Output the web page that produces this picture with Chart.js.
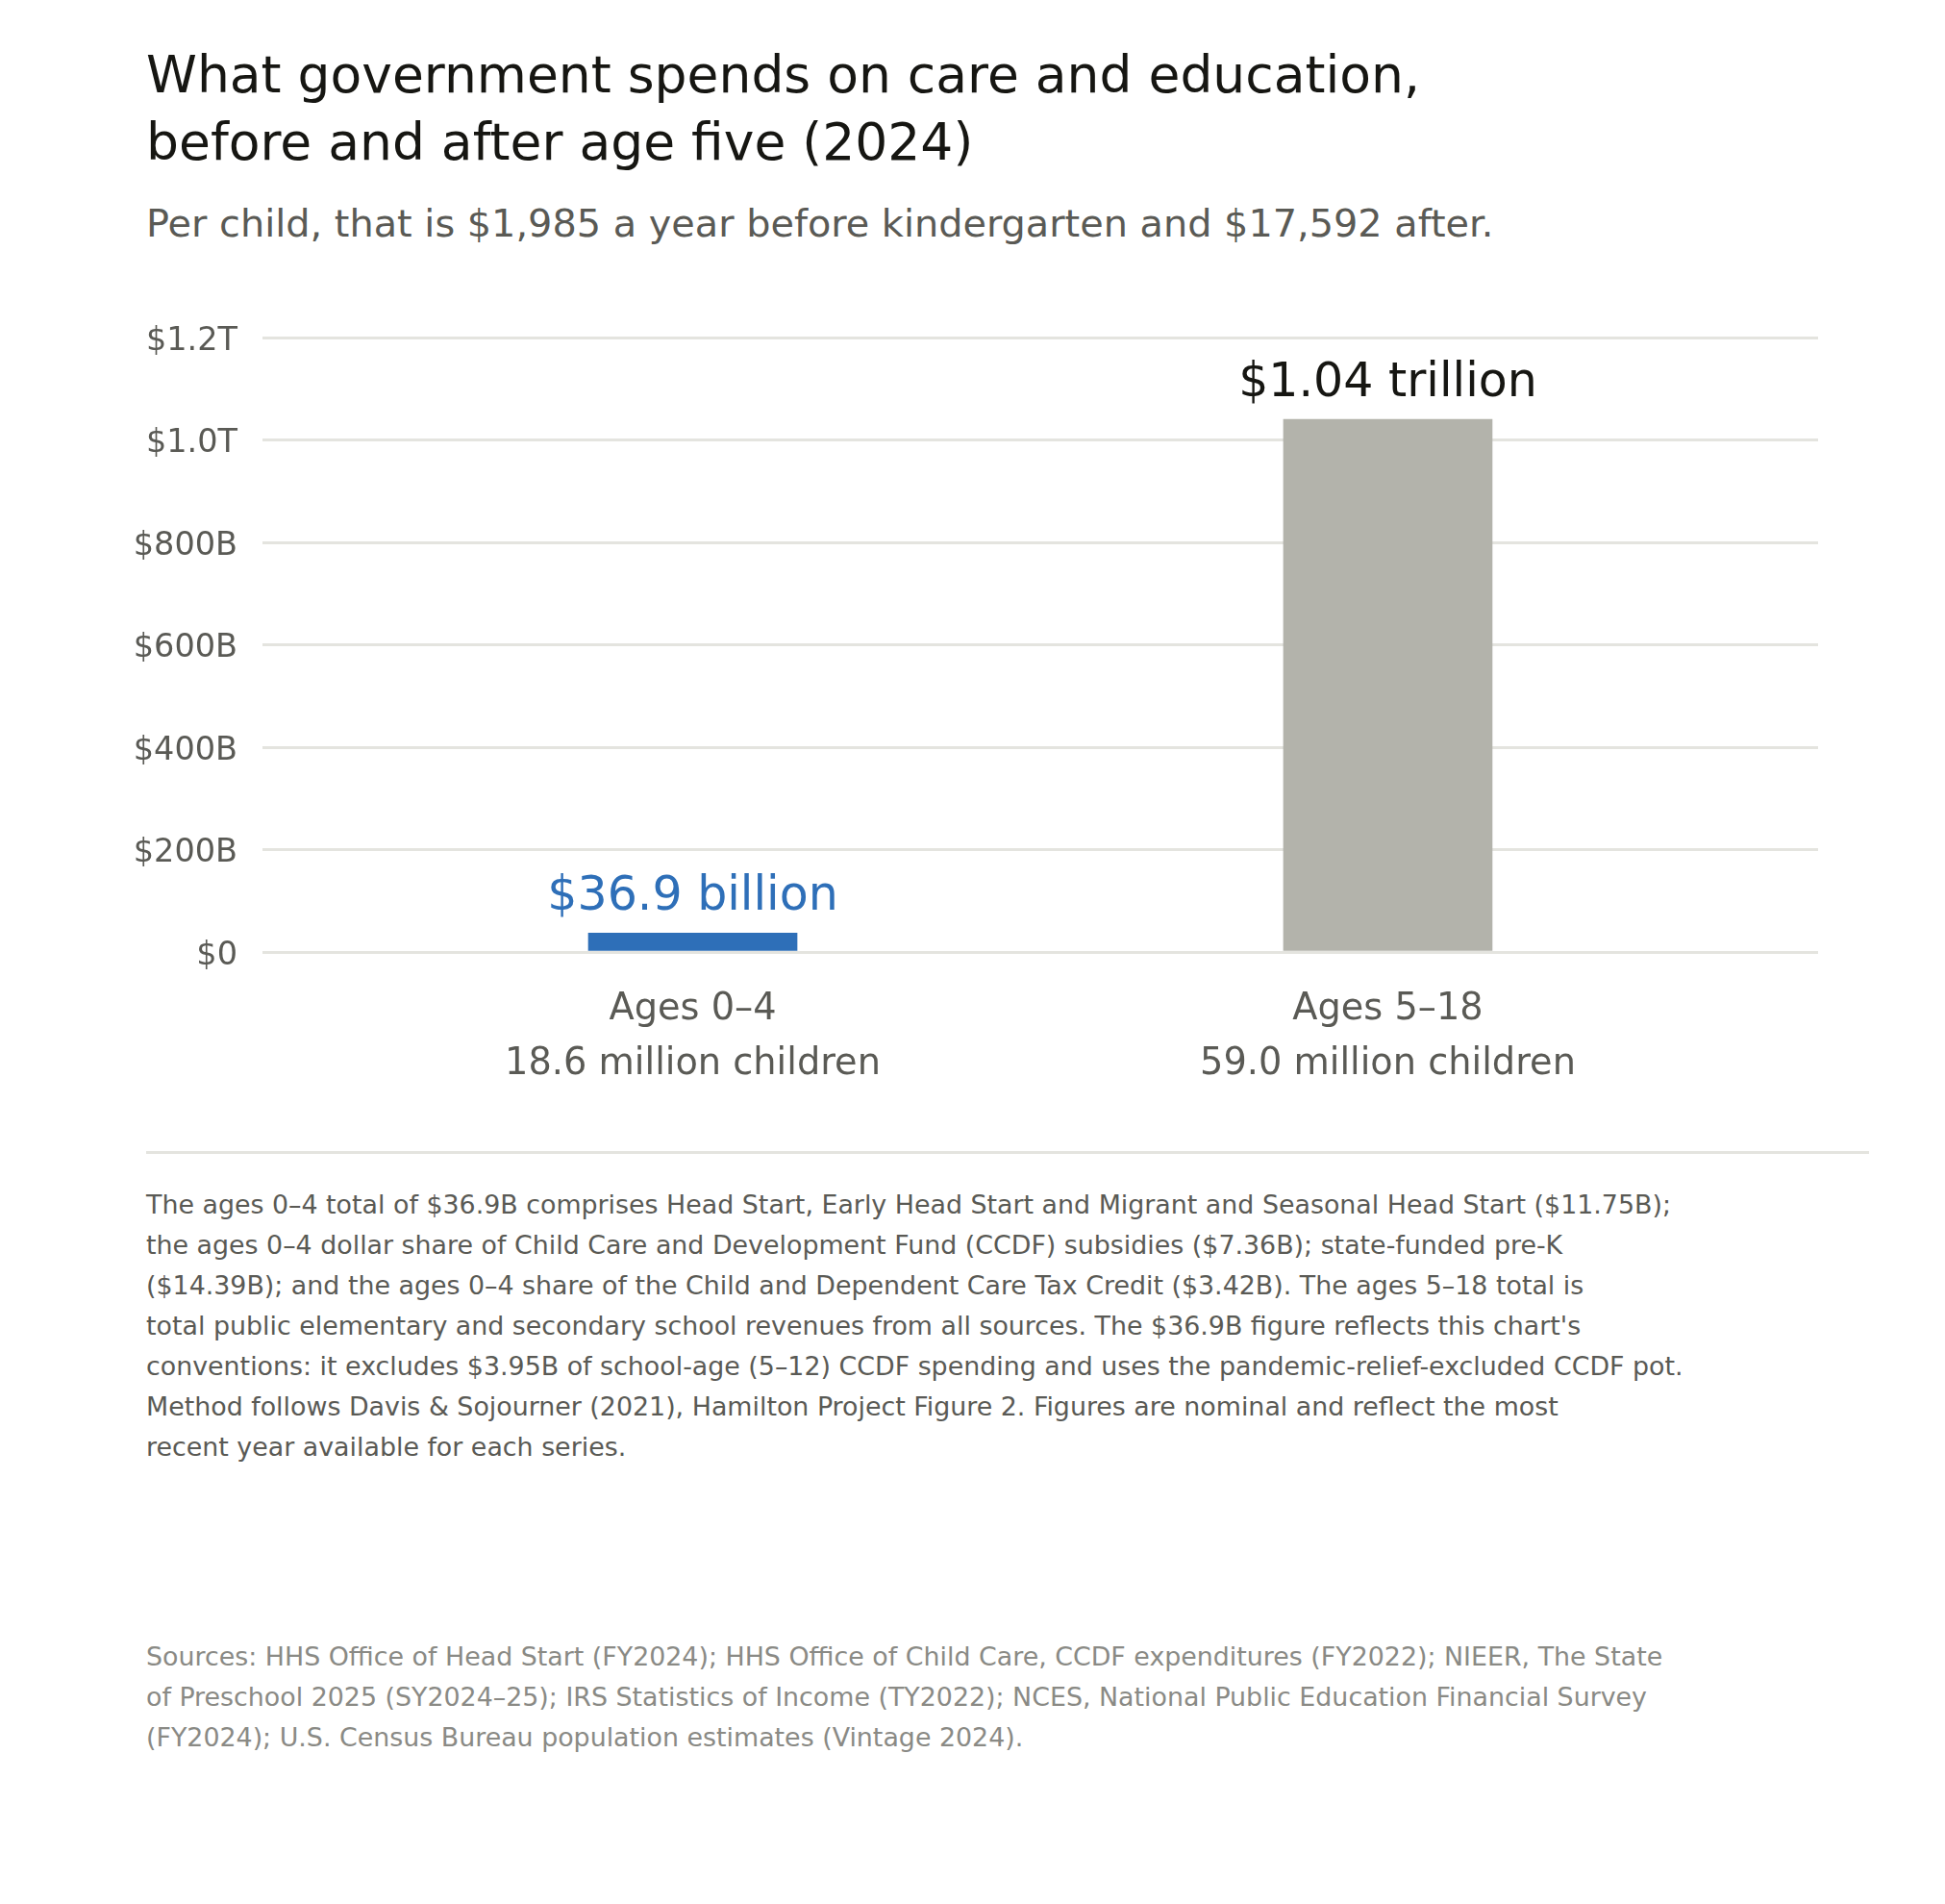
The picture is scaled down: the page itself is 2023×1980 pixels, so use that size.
<!DOCTYPE html>
<html>
<head>
<meta charset="utf-8">
<script src="https://cdn.jsdelivr.net/npm/chart.js@4.4.1/dist/chart.umd.min.js"></script>
<style>
  html, body { margin: 0; padding: 0; background: #fff; }
  body { width: 2023px; height: 1980px; position: relative; font-family: "DejaVu Sans", sans-serif; }
  .txt { position: absolute; left: 152px; white-space: nowrap; }
  #title { top: 43px; font-size: 53.5px; line-height: 70px; color: #161612; }
  #subtitle { top: 207px; font-size: 39.8px; line-height: 50px; color: #5a5a55; }
  #notes { top: 1232px; font-size: 26.85px; line-height: 42px; color: #5a5a55; }
  #sources { top: 1702px; font-size: 26.85px; line-height: 42px; color: #8a8a85; }
  #rule { position: absolute; left: 152px; top: 1197px; width: 1792px; height: 3px; background: #e4e4df; }
  #chart { position: absolute; left: 0; top: 300px; }
</style>
</head>
<body>
<div id="title" class="txt">What government spends on care and education,<br>before and after age five (2024)</div>
<div id="subtitle" class="txt">Per child, that is $1,985 a year before kindergarten and $17,592 after.</div>
<canvas id="chart" width="2023" height="860"></canvas>
<div id="rule"></div>
<div id="notes" class="txt">The ages 0–4 total of $36.9B comprises Head Start, Early Head Start and Migrant and Seasonal Head Start ($11.75B);<br>the ages 0–4 dollar share of Child Care and Development Fund (CCDF) subsidies ($7.36B); state-funded pre-K<br>($14.39B); and the ages 0–4 share of the Child and Dependent Care Tax Credit ($3.42B). The ages 5–18 total is<br>total public elementary and secondary school revenues from all sources. The $36.9B figure reflects this chart's<br>conventions: it excludes $3.95B of school-age (5–12) CCDF spending and uses the pandemic-relief-excluded CCDF pot.<br>Method follows Davis &amp; Sojourner (2021), Hamilton Project Figure 2. Figures are nominal and reflect the most<br>recent year available for each series.</div>
<div id="sources" class="txt">Sources: HHS Office of Head Start (FY2024); HHS Office of Child Care, CCDF expenditures (FY2022); NIEER, The State<br>of Preschool 2025 (SY2024–25); IRS Statistics of Income (TY2022); NCES, National Public Education Financial Survey<br>(FY2024); U.S. Census Bureau population estimates (Vintage 2024).</div>
<script>
// values
var categories = ['Ages 0–4', 'Ages 5–18'];
var childCounts = ['18.6 million children', '59.0 million children'];
var spending = [36.9e9, 1.04e12];
var valueLabels = ['$36.9 billion', '$1.04 trillion'];
var barColors = ['#2e6fb8', '#b3b3ab'];
var labelColors = ['#2e6fb8', '#161612'];
var yTickValues = [0, 200e9, 400e9, 600e9, 800e9, 1000e9, 1200e9];
var yTickLabels = ['$0', '$200B', '$400B', '$600B', '$800B', '$1.0T', '$1.2T'];

var font = '"DejaVu Sans", sans-serif';

// value labels above each bar
var barLabels = {
  id: 'barLabels',
  afterDatasetsDraw: function (chart) {
    var ctx = chart.ctx;
    var bars = chart.getDatasetMeta(0).data;
    ctx.save();
    ctx.font = '49px ' + font;
    ctx.textAlign = 'center';
    ctx.textBaseline = 'alphabetic';
    bars.forEach(function (bar, i) {
      ctx.fillStyle = labelColors[i];
      ctx.fillText(valueLabels[i], bar.x, bar.y - 24);
    });
    ctx.restore();
  }
};

new Chart(document.getElementById('chart'), {
  type: 'bar',
  data: {
    datasets: [{
      data: spending.map(function (v, i) { return {x: i, y: v}; }),
      backgroundColor: barColors,
      barThickness: 217
    }]
  },
  plugins: [barLabels],
  options: {
    responsive: false,
    animation: false,
    devicePixelRatio: 1,
    layout: {padding: {top: 51, right: 132, bottom: 0, left: 0}},
    plugins: {legend: {display: false}, tooltip: {enabled: false}},
    scales: {
      x: {
        type: 'linear',
        offset: false,
        min: -0.619,
        max: 1.619,
        grid: {display: false},
        border: {display: false},
        afterBuildTicks: function (scale) {
          scale.ticks = categories.map(function (c, i) { return {value: i}; });
        },
        afterFit: function (scale) { scale.height = 170; },
        ticks: {
          padding: 23,
          color: '#5a5a55',
          font: {family: font, size: 38.3, lineHeight: 1.5},
          callback: function (v) { return [categories[v], childCounts[v]]; }
        }
      },
      y: {
        min: 0,
        max: 1.2e12,
        grid: {color: '#e4e4df', lineWidth: 3, drawTicks: false},
        border: {display: false},
        afterBuildTicks: function (scale) {
          scale.ticks = yTickValues.map(function (v) { return {value: v}; });
        },
        afterFit: function (scale) { scale.width = 273; },
        ticks: {
          padding: 26,
          labelOffset: 4,
          color: '#5a5a55',
          font: {family: font, size: 33.5},
          callback: function (v) { return yTickLabels[yTickValues.indexOf(v)]; }
        }
      }
    }
  }
});
</script>
</body>
</html>
